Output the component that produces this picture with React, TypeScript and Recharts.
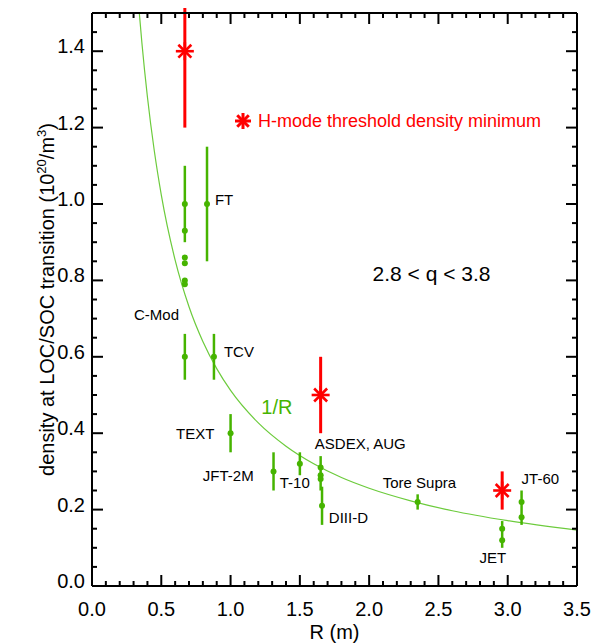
import React from 'react';
import { ComposedChart, Scatter, Line, XAxis, YAxis, ErrorBar, Legend } from 'recharts';

const FONT = '"Liberation Sans", Arial, Helvetica, sans-serif';
const GREEN = '#46b400';
const CURVE = '#6ccb3c';
const RED = '#ff0000';

// axis ticks
const xTicks = [0, 0.1, 0.2, 0.3, 0.4, 0.5, 0.6, 0.7, 0.8, 0.9, 1.0, 1.1, 1.2, 1.3, 1.4, 1.5, 1.6, 1.7, 1.8, 1.9, 2.0, 2.1, 2.2, 2.3, 2.4, 2.5, 2.6, 2.7, 2.8, 2.9, 3.0, 3.1, 3.2, 3.3, 3.4, 3.5];
const xMajor = [0, 0.5, 1.0, 1.5, 2.0, 2.5, 3.0, 3.5];
const yTicks = [0, 0.05, 0.1, 0.15, 0.2, 0.25, 0.3, 0.35, 0.4, 0.45, 0.5, 0.55, 0.6, 0.65, 0.7, 0.75, 0.8, 0.85, 0.9, 0.95, 1.0, 1.05, 1.1, 1.15, 1.2, 1.25, 1.3, 1.35, 1.4, 1.45, 1.5];
const yMajor = [0, 0.2, 0.4, 0.6, 0.8, 1.0, 1.2, 1.4];

// LOC/SOC transition density (green)
const locR = [0.67, 0.67, 0.67, 0.67, 0.67, 0.67, 0.67, 0.83, 0.88, 1.0, 1.31, 1.5, 1.65, 1.65, 1.65, 1.66, 2.35, 2.96, 2.96, 3.1, 3.1];
const locN = [1.0, 0.93, 0.86, 0.845, 0.8, 0.79, 0.6, 1.0, 0.6, 0.4, 0.3, 0.32, 0.31, 0.29, 0.28, 0.21, 0.22, 0.15, 0.12, 0.22, 0.18];
const locErrDown = [0.1, 0, 0, 0, 0, 0, 0.06, 0.15, 0.06, 0.05, 0.05, 0.03, 0.06, 0, 0, 0.05, 0.02, 0.05, 0, 0.06, 0];
const locErrUp = [0.1, 0, 0, 0, 0, 0, 0.06, 0.15, 0.06, 0.05, 0.05, 0.03, 0.03, 0, 0, 0.05, 0.02, 0.02, 0, 0.03, 0];

// H-mode threshold density minimum (red)
const hName = 'H-mode threshold density minimum';
const hR = [0.67, 1.65, 2.96];
const hN = [1.4, 0.5, 0.25];
const hErr = [0.2, 0.1, 0.05];

// 1/R curve
const fitR = [0.34, 0.36, 0.4, 0.45, 0.5, 0.6, 0.7, 0.8, 0.9, 1.0, 1.2, 1.4, 1.6, 1.8, 2.0, 2.3, 2.6, 3.0, 3.5];
const fitN = [1.506, 1.422, 1.28, 1.138, 1.024, 0.853, 0.731, 0.64, 0.569, 0.512, 0.427, 0.366, 0.32, 0.284, 0.256, 0.223, 0.197, 0.171, 0.146];

// machine labels (anchored in data coordinates)
const machineNames = ['C-Mod', 'FT', 'TCV', 'TEXT', 'JFT-2M', 'T-10', 'ASDEX, AUG', 'DIII-D', 'Tore Supra', 'JET', 'JT-60'];
const machineLabelR = [0.303, 0.887, 0.952, 0.606, 0.8, 1.355, 1.608, 1.709, 2.098, 2.797, 3.1];
const machineLabelN = [0.712, 1.013, 0.615, 0.4, 0.29, 0.271, 0.3735, 0.18, 0.271, 0.075, 0.282];

const noteTexts = ['1/R', '2.8 < q < 3.8'];
const noteR = [1.334, 2.45];
const noteN = [0.468, 0.819];

const locData = locR.map((R, i) => ({ R, n: locN[i], err: [locErrDown[i], locErrUp[i]] }));
const hData = hR.map((R, i) => ({ R, n: hN[i], err: [hErr[i], hErr[i]] }));
const fitData = fitR.map((R, i) => ({ R, n: fitN[i] }));
const labelData = machineNames.map((text, i) => ({ R: machineLabelR[i], n: machineLabelN[i], text }));
const noteData = noteTexts.map((text, i) => ({ R: noteR[i], n: noteN[i], text }));

const isIn = (v: number, arr: number[]) => arr.some((a) => Math.abs(a - v) < 1e-6);

const BottomTick = (p: any) => {
  const v = p.payload.value;
  const major = isIn(v, xMajor);
  return (
    <g>
      <line x1={p.x} x2={p.x} y1={p.y} y2={p.y - (major ? 11 : 5)} stroke="#000" strokeWidth={2} />
      {major && (
        <text x={p.x} y={p.y + 23} textAnchor="middle" dominantBaseline="central" fontSize={20} fontFamily={FONT} fill="#000">
          {v.toFixed(1)}
        </text>
      )}
    </g>
  );
};
const TopTick = (p: any) => {
  const major = isIn(p.payload.value, xMajor);
  return <line x1={p.x} x2={p.x} y1={p.y} y2={p.y + (major ? 11 : 5)} stroke="#000" strokeWidth={2} />;
};
const LeftTick = (p: any) => {
  const v = p.payload.value;
  const major = isIn(v, yMajor);
  return (
    <g>
      <line x1={p.x} x2={p.x + (major ? 11 : 5)} y1={p.y} y2={p.y} stroke="#000" strokeWidth={2} />
      {major && (
        <text x={p.x - 7} y={p.y - 5} textAnchor="end" dominantBaseline="central" fontSize={20} fontFamily={FONT} fill="#000">
          {v.toFixed(1)}
        </text>
      )}
    </g>
  );
};
const RightTick = (p: any) => {
  const major = isIn(p.payload.value, yMajor);
  return <line x1={p.x} x2={p.x - (major ? 11 : 5)} y1={p.y} y2={p.y} stroke="#000" strokeWidth={2} />;
};

const Star = ({ cx, cy, r, color, w }: any) => {
  const d = r * 0.72;
  return (
    <g stroke={color} strokeWidth={w} strokeLinecap="butt">
      <line x1={cx - r} x2={cx + r} y1={cy} y2={cy} />
      <line x1={cx} x2={cx} y1={cy - r} y2={cy + r} />
      <line x1={cx - d} x2={cx + d} y1={cy - d} y2={cy + d} />
      <line x1={cx - d} x2={cx + d} y1={cy + d} y2={cy - d} />
    </g>
  );
};

const XTitle = (props: any) => {
  const vb = props.viewBox || { x: 84, y: 578, width: 485, height: 1 };
  return (
    <text x={vb.x + vb.width / 2} y={vb.y + 46} textAnchor="middle" dominantBaseline="central" fontSize={20} fontFamily={FONT} fill="#000">
      R (m)
    </text>
  );
};
const YTitle = (props: any) => {
  const vb = props.viewBox || { x: 83, y: 5, width: 1, height: 573 };
  const cx = vb.x + vb.width - 38;
  const cy = vb.y + vb.height / 2;
  return (
    <text transform={`translate(${cx},${cy}) rotate(-90)`} textAnchor="middle" fontSize={20} fontFamily={FONT} fill="#000">
      density at LOC/SOC transition (10
      <tspan dy={-8} fontSize={13}>20</tspan>
      <tspan dy={8}>/m</tspan>
      <tspan dy={-8} fontSize={13}>3</tspan>
      <tspan dy={8}>)</tspan>
    </text>
  );
};

const LegendContent = (props: any) => {
  const items = (props.payload || []).filter((e: any) => e.value === hName);
  return (
    <div>
      {items.map((e: any) => (
        <div key={e.value} style={{ display: 'flex', alignItems: 'center', whiteSpace: 'nowrap', fontFamily: FONT, fontSize: 18, color: RED, lineHeight: '20px' }}>
          <svg width={20} height={20} style={{ display: 'block' }}>
            <Star cx={10} cy={10} r={8} color={RED} w={3} />
          </svg>
          <span style={{ marginLeft: 5 }}>{e.value}</span>
        </div>
      ))}
    </div>
  );
};

export default function App() {
  return (
    <div style={{ width: 588, height: 636, position: 'relative', fontFamily: FONT }}>
      <ComposedChart width={588} height={636} margin={{ top: 4, right: 18, bottom: 57, left: 83 }}>
        <XAxis
          xAxisId={0}
          dataKey="R"
          type="number"
          domain={[0, 3.5]}
          ticks={xTicks}
          interval={0}
          allowDataOverflow
          height={1}
          tickSize={0}
          tickMargin={0}
          tickLine={false}
          tick={BottomTick}
          axisLine={{ stroke: '#000', strokeWidth: 2 }}
          label={XTitle}
        />
        <XAxis
          xAxisId="top"
          orientation="top"
          dataKey="R"
          type="number"
          domain={[0, 3.5]}
          ticks={xTicks}
          interval={0}
          allowDataOverflow
          height={1}
          tickSize={0}
          tickMargin={0}
          tickLine={false}
          tick={TopTick}
          axisLine={{ stroke: '#000', strokeWidth: 2 }}
        />
        <YAxis
          yAxisId={0}
          dataKey="n"
          type="number"
          domain={[0, 1.5]}
          ticks={yTicks}
          interval={0}
          allowDataOverflow
          width={1}
          tickSize={0}
          tickMargin={0}
          tickLine={false}
          tick={LeftTick}
          axisLine={{ stroke: '#000', strokeWidth: 2 }}
          label={YTitle}
        />
        <YAxis
          yAxisId="right"
          orientation="right"
          dataKey="n"
          type="number"
          domain={[0, 1.5]}
          ticks={yTicks}
          interval={0}
          allowDataOverflow
          width={1}
          tickSize={0}
          tickMargin={0}
          tickLine={false}
          tick={RightTick}
          axisLine={{ stroke: '#000', strokeWidth: 2 }}
        />
        <Line
          data={fitData}
          dataKey="n"
          type="monotone"
          stroke={CURVE}
          strokeWidth={1.2}
          dot={false}
          activeDot={false}
          legendType="none"
          isAnimationActive={false}
        />
        <Scatter
          data={locData}
          name="LOC/SOC"
          legendType="none"
          isAnimationActive={false}
          shape={(p: any) => <circle cx={p.cx} cy={p.cy} r={3} fill={GREEN} />}
        >
          <ErrorBar dataKey="err" direction="y" width={0} stroke={GREEN} strokeWidth={2.5} isAnimationActive={false} />
        </Scatter>
        <Scatter
          data={hData}
          name={hName}
          fill={RED}
          isAnimationActive={false}
          shape={(p: any) => <Star cx={p.cx} cy={p.cy} r={9} color={RED} w={2.6} />}
        >
          <ErrorBar dataKey="err" direction="y" width={0} stroke={RED} strokeWidth={3} isAnimationActive={false} />
        </Scatter>
        <Scatter
          data={labelData}
          name="labels"
          legendType="none"
          isAnimationActive={false}
          shape={(p: any) => (
            <text x={p.cx} y={p.cy} dominantBaseline="central" textAnchor="start" fontSize={15} fontFamily={FONT} fill="#000">
              {p.payload.text}
            </text>
          )}
        />
        <Scatter
          data={noteData}
          name="notes"
          legendType="none"
          isAnimationActive={false}
          shape={(p: any) => (
            <text
              x={p.cx}
              y={p.cy}
              dominantBaseline="central"
              textAnchor="middle"
              fontSize={p.payload.text === '1/R' ? 20 : 21}
              fontFamily={FONT}
              fill={p.payload.text === '1/R' ? GREEN : '#000'}
            >
              {p.payload.text}
            </text>
          )}
        />
        <Legend
          layout="vertical"
          verticalAlign="middle"
          align="center"
          content={LegendContent}
          wrapperStyle={{ left: 225, top: 103, width: 340 }}
        />
      </ComposedChart>
    </div>
  );
}
